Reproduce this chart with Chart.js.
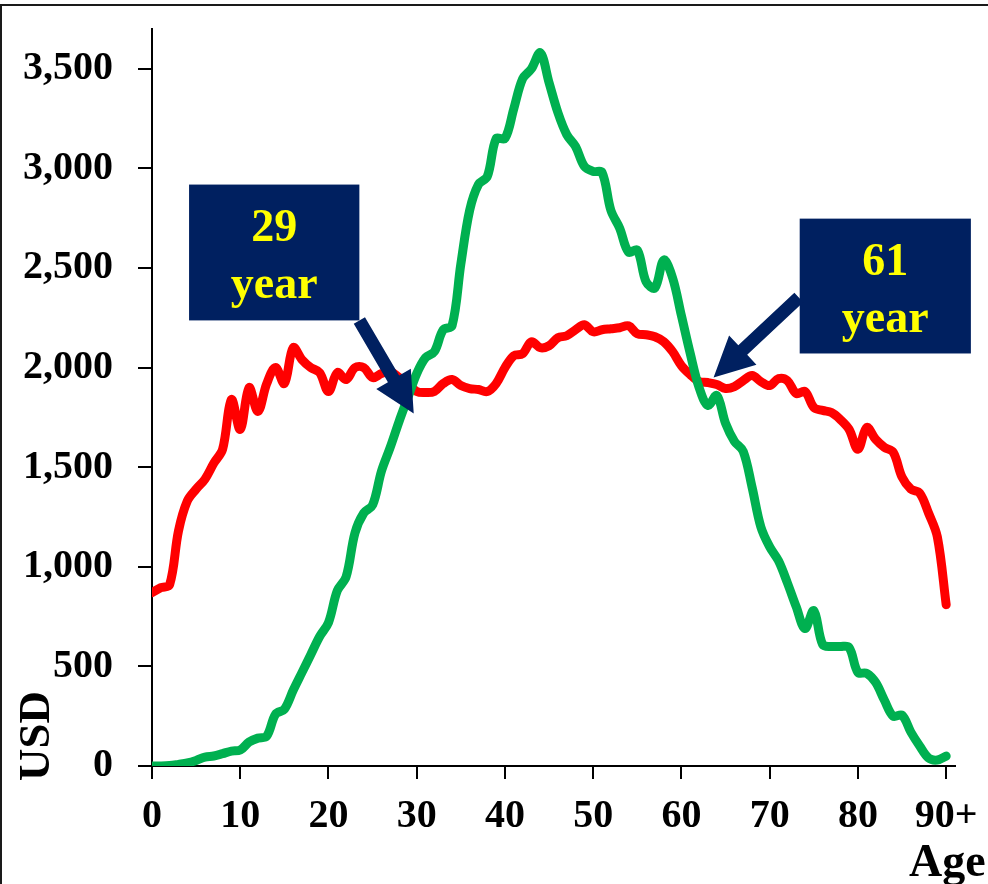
<!DOCTYPE html>
<html>
<head>
<meta charset="utf-8">
<script src="https://cdn.jsdelivr.net/npm/chart.js@4.4.0/dist/chart.umd.min.js"></script>
<style>
  html, body { margin: 0; padding: 0; background: #ffffff; }
  #wrap { position: relative; width: 988px; height: 884px; overflow: hidden; }
  #frame { position: absolute; left: 0; top: 4px; width: 1000px; height: 900px;
           border-top: 2px solid #1a1a1a; border-left: 2px solid #1a1a1a; pointer-events: none; }
  canvas { position: absolute; left: 0; top: 0; }
</style>
</head>
<body>
<div id="wrap">
  <canvas id="chart" width="988" height="884"></canvas>
  <div id="frame"></div>
</div>
<script>
// Per-capita labour income and consumption by single year of age (USD)
const ages = [
   0,  1,  2,  3,  4,  5,  6,  7,  8,  9,
  10, 11, 12, 13, 14, 15, 16, 17, 18, 19,
  20, 21, 22, 23, 24, 25, 26, 27, 28, 29,
  30, 31, 32, 33, 34, 35, 36, 37, 38, 39,
  40, 41, 42, 43, 44, 45, 46, 47, 48, 49,
  50, 51, 52, 53, 54, 55, 56, 57, 58, 59,
  60, 61, 62, 63, 64, 65, 66, 67, 68, 69,
  70, 71, 72, 73, 74, 75, 76, 77, 78, 79,
  80, 81, 82, 83, 84, 85, 86, 87, 88, 89,
  90
];

const consumption = [
   870,  895,  910, 1180, 1330, 1390, 1440, 1520, 1590, 1840,
  1690, 1900, 1780, 1920, 2000, 1920, 2100, 2040, 2000, 1975,
  1880, 1975, 1940, 2000, 2000, 1950, 1970, 1980, 1950, 1920,
  1880, 1875, 1880, 1920, 1940, 1910, 1895, 1890, 1880, 1920,
  2000, 2060, 2070, 2130, 2100, 2110, 2150, 2160, 2190, 2215,
  2180, 2190, 2195, 2200, 2210, 2170, 2165, 2155, 2130, 2080,
  2010, 1965, 1930, 1925, 1915, 1895, 1905, 1935, 1960, 1930,
  1910, 1945, 1935, 1870, 1880, 1800, 1785, 1775, 1740, 1690,
  1590, 1700, 1640, 1600, 1575, 1450, 1390, 1370, 1270, 1150,
   810
];

const labourIncome = [
     0,    0,    2,    8,   15,   28,   45,   50,   62,   75,
    80,  120,  140,  150,  260,  285,  380,  470,  560,  650,
   720,  880,  950, 1170, 1270, 1310, 1480, 1600, 1730, 1850,
  1970, 2050, 2080, 2190, 2210, 2520, 2790, 2920, 2960, 3150,
  3150, 3300, 3450, 3500, 3580, 3430, 3280, 3170, 3110, 3010,
  2985, 2980, 2790, 2700, 2580, 2590, 2430, 2400, 2540, 2450,
  2260, 2070, 1900, 1810, 1860, 1720, 1630, 1580, 1400, 1200,
  1100, 1030,  920,  800,  690,  780,  610,  600,  600,  595,
   470,  465,  420,  330,  250,  255,  170,  100,   40,   30,
    50
];

const ageTicks = [0, 10, 20, 30, 40, 50, 60, 70, 80, 90];
const ageTickLabels = ['0', '10', '20', '30', '40', '50', '60', '70', '80', '90+'];
const usdTicks = [0, 500, 1000, 1500, 2000, 2500, 3000, 3500];

// Call-out boxes with arrows pointing at the two crossover ages
// box: [ageLeft, ageRight, usdTop, usdBottom]; tail/tip: [age, usd]
const callouts = [
  { lines: ['29', 'year'], box: [4.2, 23.5, 2919, 2237], tail: [23.5, 2237], tip: [29.66, 1770] },
  { lines: ['61', 'year'], box: [73.4, 92.8, 2748, 2071], tail: [73.3, 2352], tip: [63.64, 1951] }
];

const SERIF = "'Liberation Serif', 'Times New Roman', Times, serif";
const NAVY = '#002060';
const TEXT_YELLOW = '#FFFF00';

function drawArrow(ctx, tx, ty, px, py) {
  const dx = px - tx, dy = py - ty;
  const len = Math.hypot(dx, dy);
  const ux = dx / len, uy = dy / len;
  const nx = -uy, ny = ux;
  const shaft = 6.5, head = 20, headLen = 40;
  const bx = px - ux * headLen, by = py - uy * headLen;
  ctx.beginPath();
  ctx.moveTo(tx + nx * shaft, ty + ny * shaft);
  ctx.lineTo(bx + nx * shaft, by + ny * shaft);
  ctx.lineTo(bx + nx * head, by + ny * head);
  ctx.lineTo(px, py);
  ctx.lineTo(bx - nx * head, by - ny * head);
  ctx.lineTo(bx - nx * shaft, by - ny * shaft);
  ctx.lineTo(tx - nx * shaft, ty - ny * shaft);
  ctx.closePath();
  ctx.fill();
}

const decorations = {
  id: 'decorations',
  afterDatasetsDraw(chart) {
    const ctx = chart.ctx;
    const xs = chart.scales.x, ys = chart.scales.y;
    ctx.save();

    callouts.forEach(c => {
      const left = xs.getPixelForValue(c.box[0]);
      const right = xs.getPixelForValue(c.box[1]);
      const top = ys.getPixelForValue(c.box[2]);
      const bottom = ys.getPixelForValue(c.box[3]);
      ctx.fillStyle = NAVY;
      ctx.fillRect(left, top, right - left, bottom - top);
      drawArrow(ctx,
        xs.getPixelForValue(c.tail[0]), ys.getPixelForValue(c.tail[1]),
        xs.getPixelForValue(c.tip[0]), ys.getPixelForValue(c.tip[1]));

      ctx.fillStyle = TEXT_YELLOW;
      ctx.font = 'bold 46px ' + SERIF;
      ctx.textAlign = 'center';
      ctx.textBaseline = 'alphabetic';
      const cx = (left + right) / 2;
      ctx.fillText(c.lines[0], cx, top + 56);
      ctx.fillText(c.lines[1], cx, top + 113);
    });

    // axis titles
    ctx.fillStyle = '#000000';
    ctx.font = 'bold 46px ' + SERIF;
    ctx.textAlign = 'left';
    ctx.textBaseline = 'alphabetic';
    ctx.fillText('Age', 909, 876);

    ctx.translate(49, 781);
    ctx.rotate(-Math.PI / 2);
    ctx.font = 'bold 45px ' + SERIF;
    ctx.fillText('USD', 0, 0);
    ctx.restore();
  }
};

const lineStyle = {
  borderWidth: 9,
  tension: 0.35,
  pointRadius: 0,
  borderCapStyle: 'round',
  borderJoinStyle: 'round',
  fill: false
};

new Chart(document.getElementById('chart'), {
  type: 'line',
  data: {
    datasets: [
      Object.assign({
        label: 'Labour income',
        data: ages.map((a, i) => ({ x: a, y: labourIncome[i] })),
        borderColor: '#00B050'
      }, lineStyle),
      Object.assign({
        label: 'Consumption',
        data: ages.map((a, i) => ({ x: a, y: consumption[i] })),
        borderColor: '#FF0000'
      }, lineStyle)
    ]
  },
  options: {
    responsive: false,
    animation: false,
    events: [],
    layout: { padding: { top: 29, right: 33, left: 0, bottom: 0 } },
    plugins: {
      legend: { display: false },
      tooltip: { enabled: false }
    },
    scales: {
      x: {
        type: 'linear',
        min: 0,
        max: 91,
        afterBuildTicks: s => { s.ticks = ageTicks.map(v => ({ value: v })); },
        afterFit: s => { s.height = 118; s.paddingLeft = 0; s.paddingRight = 0; },
        ticks: {
          autoSkip: false,
          maxRotation: 0,
          padding: 14,
          color: '#000000',
          font: { family: SERIF, size: 40, weight: 'bold' },
          callback: v => ageTickLabels[ageTicks.indexOf(v)]
        },
        grid: { drawOnChartArea: false, drawTicks: true, tickLength: 13, color: '#000000', lineWidth: 2 },
        border: { display: true, color: '#000000', width: 2 }
      },
      y: {
        type: 'linear',
        min: 0,
        max: 3700,
        afterBuildTicks: s => { s.ticks = usdTicks.map(v => ({ value: v })); },
        afterFit: s => { s.width = 152; s.paddingTop = 0; s.paddingBottom = 0; },
        ticks: {
          autoSkip: false,
          padding: 25,
          color: '#000000',
          font: { family: SERIF, size: 40, weight: 'bold' },
          callback: v => v.toLocaleString('en-US')
        },
        grid: { drawOnChartArea: false, drawTicks: true, tickLength: 14, color: '#000000', lineWidth: 2 },
        border: { display: true, color: '#000000', width: 2 }
      }
    }
  },
  plugins: [decorations]
});
</script>
</body>
</html>
